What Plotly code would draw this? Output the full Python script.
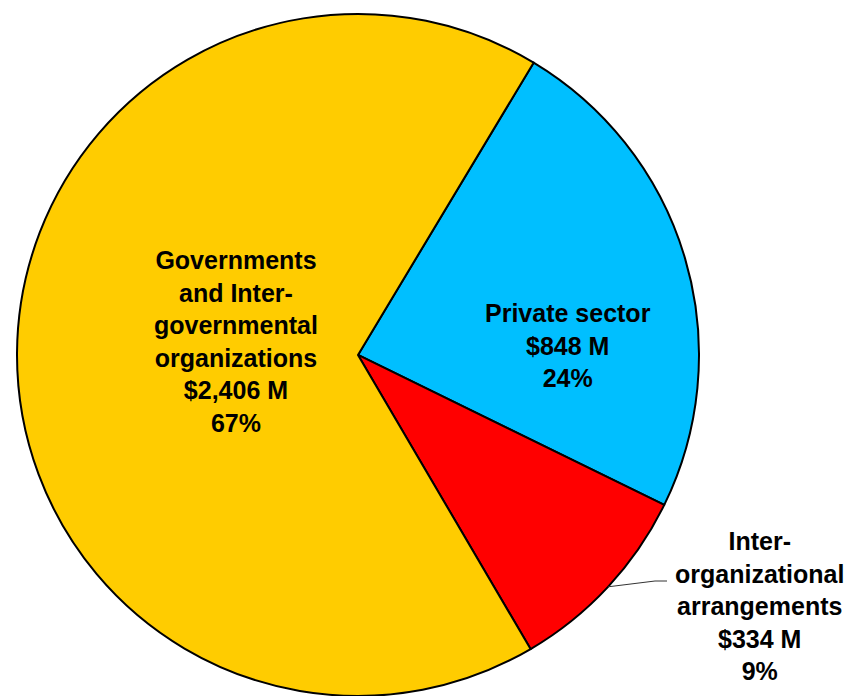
import math
import plotly.graph_objects as go

# ---- data ----
categories = ["Private sector", "Inter-<br>organizational<br>arrangements",
              "Governments<br>and Inter-<br>governmental<br>organizations"]
values = [848, 334, 2406]
colors = ["#00BFFF", "#FF0000", "#FFCC00"]

# ---- layout constants ----
W, H = 852, 696
rotation = 31
dom_x = [17 / W, 699 / W]
dom_y = [0.0, 0.98]
# label centres in pixels (layout only)
label_px = [(568, 345), (759, 606), (236, 341)]
elbow_px = [(655, 581), (667, 581)]

total = sum(values)
pcts = [round(v / total * 100) for v in values]
texts = [f"{c}<br>${v:,} M<br>{p}%" for c, v, p in zip(categories, values, pcts)]

fig = go.Figure(go.Pie(
    labels=[c.replace("<br>", " ") for c in categories],
    values=values,
    sort=False,
    direction="clockwise",
    rotation=rotation,
    marker=dict(colors=colors, line=dict(color="black", width=2)),
    textinfo="none",
    hoverinfo="label+value+percent",
    domain=dict(x=dom_x, y=dom_y),
    showlegend=False,
))

def to_paper(px, py):
    return px / W, 1 - py / H

font = dict(family="Liberation Sans, Arial, sans-serif", size=25, color="black", weight="bold")
for t, (px, py) in zip(texts, label_px):
    x, y = to_paper(px, py)
    fig.add_annotation(x=x, y=y, xref="paper", yref="paper", text=t, showarrow=False,
                       xanchor="center", yanchor="middle", align="center", font=font)

# leader line for the small slice: from slice edge at mid-angle to the label
cx = (dom_x[0] + dom_x[1]) / 2 * W
cy = (1 - (dom_y[0] + dom_y[1]) / 2) * H
r = min((dom_x[1] - dom_x[0]) * W, (dom_y[1] - dom_y[0]) * H) / 2
mid = math.radians(rotation + (values[0] + values[1] / 2) / total * 360)
ex, ey = cx + r * math.sin(mid), cy - r * math.cos(mid)
pts = [to_paper(ex, ey)] + [to_paper(*p) for p in elbow_px]
path = "M " + " L ".join(f"{x},{y}" for x, y in pts)
fig.add_shape(type="path", path=path, xref="paper", yref="paper",
              line=dict(color="#333333", width=1))

fig.update_layout(width=W, height=H, margin=dict(l=0, r=0, t=0, b=0),
                  paper_bgcolor="white", plot_bgcolor="white")
fig.write_html("out.html")
